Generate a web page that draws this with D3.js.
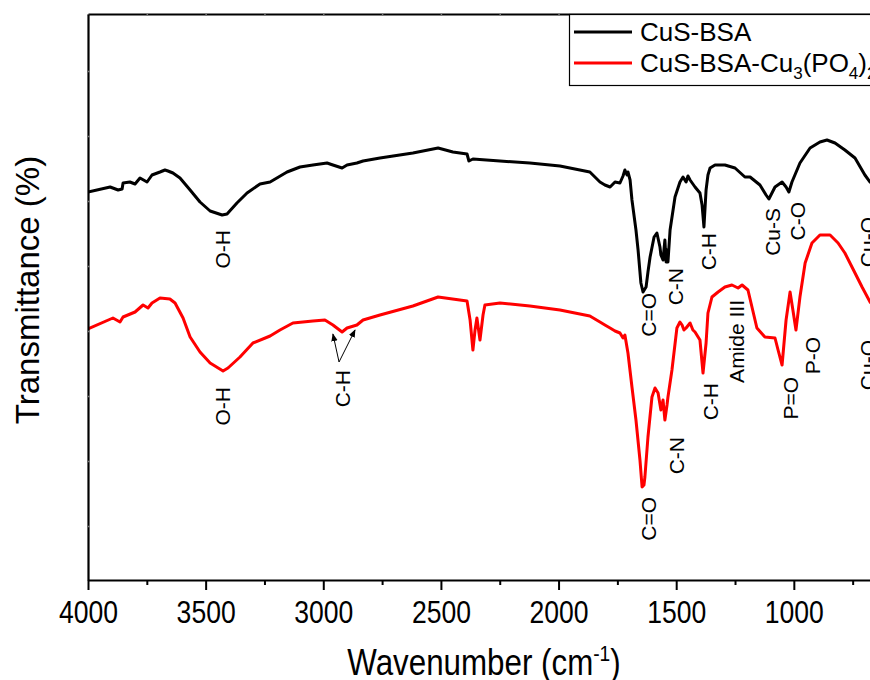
<!DOCTYPE html>
<html><head><meta charset="utf-8">
<script src="https://cdn.jsdelivr.net/npm/d3@7"></script>
<style>body{margin:0;background:#fff}svg{display:block}</style>
</head><body>
<svg id="chart" width="870" height="680"></svg>
<script>
// ---- data ----
const xMajorTicks = [4000, 3500, 3000, 2500, 2000, 1500, 1000];
const xMinorTicks = [3750, 3250, 2750, 2250, 1750, 1250, 750];
const yMinorTicks = [10.8, 23.8, 36.8, 49.8, 62.8, 75.8, 88.8, 101.8];
const seriesNames = ["CuS-BSA", "CuS-BSA-Cu3(PO4)2"];
const seriesColors = ["#000000", "#ff0000"];

const bsaWn = [4000,3906,3872,3855,3851,3822,3800,3779,3749,3728,3694,3673,3660,3639,3609,3566,3524,3481,3430,3409,3367,3324,3269,3226,3154,3099,3044,2984,2959,2920,2899,2857,2831,2759,2619,2512,2449,2389,2381,2364,2249,2122,1994,1867,1824,1803,1781,1760,1739,1726,1718,1709,1705,1696,1688,1671,1662,1650,1641,1628,1620,1611,1594,1582,1569,1565,1556,1548,1543,1539,1535,1526,1505,1484,1471,1458,1450,1441,1429,1420,1399,1390,1382,1373,1365,1356,1335,1293,1250,1208,1186,1144,1118,1106,1080,1050,1033,1021,1008,974,931,889,859,825,783,740,698,676,549];
const bsaT = [77.6,78.6,78.0,78.2,79.4,79.6,79.2,80.4,79.6,81.0,81.6,82.0,81.8,81.4,80.4,78.0,75.6,73.8,73.0,73.2,75.4,77.4,79.2,79.6,81.6,82.6,83.0,83.4,83.0,82.4,83.0,83.4,83.8,84.4,85.4,86.4,85.6,85.2,83.8,84.2,83.8,83.4,82.8,81.6,79.6,79.0,78.6,79.6,79.4,80.8,82.0,81.0,81.6,80.0,76.0,70.0,66.0,59.4,57.6,58.6,61.6,64.6,68.6,69.4,66.6,65.0,64.0,68.0,63.6,66.0,63.6,70.0,76.6,79.6,80.6,79.6,80.8,80.0,79.2,78.6,77.4,75.0,70.6,78.0,81.0,82.4,83.0,83.0,82.4,80.6,80.6,79.0,77.0,76.2,78.6,79.6,78.6,77.6,79.6,83.4,86.4,87.6,88.0,87.4,86.0,84.4,81.0,79.6,74.0];

const phosWn = [4000,3894,3864,3851,3800,3766,3745,3728,3694,3652,3630,3596,3566,3524,3481,3426,3405,3354,3299,3226,3184,3129,3044,2993,2959,2920,2899,2857,2831,2759,2619,2512,2389,2376,2364,2355,2347,2334,2321,2313,2249,2122,1994,1867,1824,1803,1781,1760,1739,1726,1718,1705,1688,1671,1654,1645,1637,1633,1620,1603,1590,1577,1565,1556,1548,1539,1535,1518,1497,1484,1475,1467,1458,1441,1429,1420,1399,1386,1373,1365,1348,1322,1293,1263,1237,1220,1195,1178,1157,1123,1080,1067,1050,1033,1016,1004,991,974,952,923,889,846,812,783,740,710,676,549];
const phosT = [50.2,52.4,51.6,52.6,53.6,55.0,54.4,55.4,56.4,56.2,55.4,52.4,48.6,45.6,43.4,41.8,42.4,44.6,47.4,48.8,50.0,51.4,51.8,52.0,51.0,49.6,50.4,51.0,52.0,53.0,54.8,56.6,55.8,52.0,46.0,50.0,52.4,48.0,53.0,55.0,55.4,54.8,54.0,52.8,51.6,51.0,50.4,49.8,49.4,48.4,49.0,45.4,38.6,32.0,24.0,18.6,19.0,20.6,28.6,36.6,38.4,37.4,34.0,36.0,32.0,35.0,36.6,42.0,50.4,51.6,51.0,50.0,50.4,51.4,50.0,49.6,48.0,41.4,47.4,53.4,56.6,57.6,58.6,59.0,58.4,59.0,58.0,54.6,50.4,48.6,48.4,46.0,43.0,52.0,57.6,54.0,50.0,56.6,63.4,67.4,69.0,69.0,67.4,65.4,61.4,58.6,55.6,48.0];

const bsaLabels = ["O-H", "C=O", "C-N", "C-H", "Cu-S", "C-O", "Cu-O"];
const bsaLabelWn = [3430, 1620, 1505, 1361, 1089, 983, 689];
const bsaLabelT = [70.0, 57.4, 62.4, 69.4, 74.4, 75.6, 72.6];

const phosLabels = ["O-H", "C-H", "C=O", "C-N", "C-H", "Amide III", "P=O", "P-O", "Cu-O"];
const phosLabelWn = [3430, 2920, 1620, 1501, 1356, 1242, 1016, 919, 689];
const phosLabelT = [38.6, 42.0, 16.6, 28.6, 39.4, 56.0, 40.6, 48.6, 48.0];

// arrows from C-H label to the two C-H dips
const arrowStartWn = [2933, 2933];
const arrowStartT = [43.6, 43.6];
const arrowEndWn = [2959, 2865];
const arrowEndT = [49.2, 50.0];

// ---- drawing ----
const svg = d3.select("#chart");
svg.append("rect").attr("width", 870).attr("height", 680).attr("fill", "#fff");
const defs = svg.append("defs");

const plotLeft = 88, plotTop = 14, plotBottom = 580, plotRight = 935;
const x = d3.scaleLinear().domain([4000, 400]).range([plotLeft, plotRight]);
const y = d3.scaleLinear().domain([0, 113.2]).range([plotBottom, plotTop]);

defs.append("clipPath").attr("id", "clip")
  .append("rect").attr("x", plotLeft).attr("y", plotTop)
  .attr("width", plotRight - plotLeft).attr("height", plotBottom - plotTop);

const line = d3.line().x(d => x(d[0])).y(d => y(d[1])).curve(d3.curveLinear);
const series = [d3.zip(bsaWn, bsaT), d3.zip(phosWn, phosT)];

const plot = svg.append("g").attr("clip-path", "url(#clip)");
series.forEach((s, i) => {
  plot.append("path").datum(s).attr("d", line)
    .attr("fill", "none").attr("stroke", seriesColors[i])
    .attr("stroke-width", 3).attr("stroke-linejoin", "round");
});

// axes
const baseFont = "'Liberation Sans',Arial,sans-serif";
const xAxis = svg.append("g").attr("transform", `translate(0,${plotBottom})`)
  .call(d3.axisBottom(x).tickValues(xMajorTicks).tickSize(10).tickSizeOuter(0).tickFormat(d3.format("d")));
xAxis.select(".domain").attr("stroke-width", 2.2);
xAxis.selectAll(".tick line").attr("stroke-width", 2);
xAxis.selectAll(".tick text").attr("y", 20).attr("dy", "0.71em")
  .attr("transform", "scale(0.83,1)")
  .attr("font-family", baseFont).attr("font-size", 32).attr("fill", "#000");

svg.append("g").attr("transform", `translate(0,${plotBottom})`)
  .call(d3.axisBottom(x).tickValues(xMinorTicks).tickSize(5).tickSizeOuter(0).tickFormat(""))
  .call(g => g.select(".domain").remove())
  .selectAll(".tick line").attr("stroke-width", 2);

// top axis
const topAxis = svg.append("g").attr("transform", `translate(0,${plotTop})`)
  .call(d3.axisTop(x).tickValues(xMajorTicks.concat(xMinorTicks)).tickSize(-2).tickSizeOuter(0).tickFormat(""));
topAxis.select(".domain").attr("stroke-width", 2.2);
topAxis.selectAll(".tick line").attr("stroke", "#777").attr("stroke-width", 1.5);

// left axis
const yAxis = svg.append("g").attr("transform", `translate(${plotLeft},0)`)
  .call(d3.axisLeft(y).tickValues(yMinorTicks).tickSize(-2).tickSizeOuter(0).tickFormat(""));
yAxis.select(".domain").attr("stroke-width", 2.2);
yAxis.selectAll(".tick line").attr("stroke", "#777").attr("stroke-width", 1.5);

// axis titles
const xt = svg.append("text").attr("transform", "translate(484,675) scale(0.87,1)").attr("text-anchor", "middle")
  .attr("font-family", baseFont).attr("font-size", 36).attr("fill", "#000");
xt.append("tspan").text("Wavenumber (cm");
xt.append("tspan").attr("dy", -14).attr("font-size", 22).text("-1");
xt.append("tspan").attr("dy", 14).text(")");

svg.append("text").attr("transform", "translate(39,290) rotate(-90)").attr("text-anchor", "middle")
  .attr("font-family", baseFont).attr("font-size", 33).attr("fill", "#000")
  .text("Transmittance (%)");

// peak labels
function drawLabels(texts, wns, ts) {
  texts.forEach((t, i) => {
    svg.append("text")
      .attr("transform", `translate(${x(wns[i])},${y(ts[i])}) rotate(-90)`)
      .attr("text-anchor", "end").attr("dy", "0.36em")
      .attr("font-family", baseFont).attr("font-size", 21).attr("fill", "#000")
      .text(t);
  });
}
drawLabels(bsaLabels, bsaLabelWn, bsaLabelT);
drawLabels(phosLabels, phosLabelWn, phosLabelT);

// arrows
defs.append("marker").attr("id", "arrow").attr("viewBox", "0 0 10 10")
  .attr("refX", 9).attr("refY", 5).attr("markerWidth", 8).attr("markerHeight", 8)
  .attr("markerUnits", "userSpaceOnUse").attr("orient", "auto")
  .append("path").attr("d", "M0,1 L10,5 L0,9 Z").attr("fill", "#000");
arrowStartWn.forEach((w, i) => {
  svg.append("line")
    .attr("x1", x(w)).attr("y1", y(arrowStartT[i]))
    .attr("x2", x(arrowEndWn[i])).attr("y2", y(arrowEndT[i]))
    .attr("stroke", "#000").attr("stroke-width", 1).attr("marker-end", "url(#arrow)");
});

// legend
const lg = svg.append("g");
lg.append("rect").attr("x", 569.5).attr("y", 14.5).attr("width", 400).attr("height", 71)
  .attr("fill", "#fff").attr("stroke", "#000").attr("stroke-width", 1.2);
const legY = [32, 63];
seriesNames.forEach((n, i) => {
  lg.append("line").attr("x1", 574).attr("x2", 632).attr("y1", legY[i]).attr("y2", legY[i])
    .attr("stroke", seriesColors[i]).attr("stroke-width", 3);
});
lg.append("text").attr("x", 640).attr("y", legY[0] + 9).attr("font-family", baseFont)
  .attr("font-size", 26).attr("fill", "#000").text(seriesNames[0]);
const l2 = lg.append("text").attr("x", 640).attr("y", legY[1] + 9).attr("font-family", baseFont)
  .attr("font-size", 26).attr("fill", "#000");
l2.append("tspan").text("CuS-BSA-Cu");
l2.append("tspan").attr("dy", 7).attr("font-size", 17).text("3");
l2.append("tspan").attr("dy", -7).text("(PO");
l2.append("tspan").attr("dy", 7).attr("font-size", 17).text("4");
l2.append("tspan").attr("dy", -7).text(")");
l2.append("tspan").attr("dy", 7).attr("font-size", 17).text("2");
</script>
</body></html>
